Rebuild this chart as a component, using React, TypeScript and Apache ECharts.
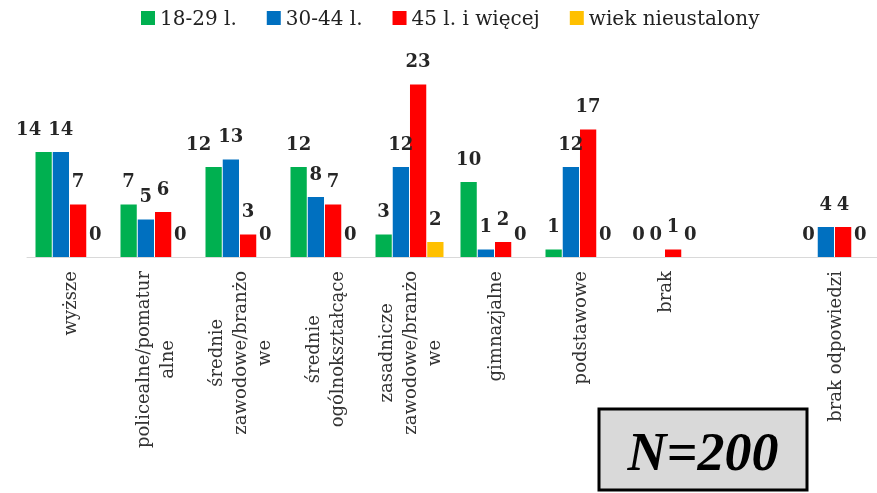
import React, { useEffect, useRef } from "react";
import * as echarts from "echarts";

const categories = [
  "wyższe",
  "policealne/pomatur\nalne",
  "średnie\nzawodowe/branżo\nwe",
  "średnie\nogólnokształcące",
  "zasadnicze\nzawodowe/branżo\nwe",
  "gimnazjalne",
  "podstawowe",
  "brak",
  "",
  "brak odpowiedzi",
];
const seriesNames = ["18-29 l.", "30-44 l.", "45 l. i więcej", "wiek nieustalony"];
const age18_29 = [14, 7, 12, 12, 3, 10, 1, 0, null, 0];
const age30_44 = [14, 5, 13, 8, 12, 1, 12, 0, null, 4];
const age45plus = [7, 6, 3, 7, 23, 2, 17, 1, null, 4];
const ageUnknown = [0, 0, 0, 0, 2, 0, 0, 0, null, 0];
const colors = ["#00B050", "#0070C0", "#FF0000", "#FFC000"];
const sampleLabel = "N=200";

export default function App() {
  const ref = useRef<HTMLDivElement>(null);
  useEffect(() => {
    if (!ref.current) return;
    const chart = echarts.init(ref.current, null, { renderer: "svg" });
    const allData = [age18_29, age30_44, age45plus, ageUnknown];
    const serif = "'DejaVu Serif', serif";
    chart.setOption({
      animation: false,
      color: colors,
      legend: {
        top: 3,
        left: 136,
        itemWidth: 14,
        itemHeight: 14,
        itemGap: 30,
        icon: "rect",
        textStyle: { fontFamily: serif, fontSize: 20, color: "#222" },
        data: seriesNames,
      },
      grid: { left: 27, right: 0, top: 69.5, bottom: 236, containLabel: false },
      xAxis: {
        type: "category",
        data: categories,
        axisTick: { show: false },
        axisLine: { lineStyle: { color: "#d9d9d9", width: 1 } },
        axisLabel: {
          rotate: 90,
          interval: 0,
          margin: 14,
          fontFamily: serif,
          fontSize: 18,
          lineHeight: 24,
          color: "#333",
          formatter: (v: string) =>
            v
              .split("\n")
              .map((l) => `{c|${l}}`)
              .join("\n"),
          rich: {
            c: { align: "center", fontFamily: serif, fontSize: 18, lineHeight: 24, color: "#333" },
          },
        },
      },
      yAxis: {
        type: "value",
        min: 0,
        max: 25,
        show: false,
        splitLine: { show: false },
      },
      series: allData.map((d, i) => ({
        name: seriesNames[i],
        type: "bar",
        data: d,
        barGap: "6%",
        barCategoryGap: "20%",
        label: {
          show: true,
          position: "top",
          distance: 15,
          fontFamily: serif,
          fontWeight: "bold",
          fontSize: 18,
          color: "#262626",
        },
        labelLayout:
          i === 0
            ? (p: any) => {
                const a = age18_29[p.dataIndex];
                const b = age30_44[p.dataIndex];
                if (a != null && b != null && a >= 10 && b >= 10 && Math.abs(a - b) <= 1) {
                  return { dx: -15 };
                }
                return {};
              }
            : undefined,
      })),
      graphic: [
        {
          type: "rect",
          shape: { x: 599, y: 409, width: 208, height: 81 },
          style: { fill: "#d9d9d9", stroke: "#000", lineWidth: 3 },
        },
        {
          type: "text",
          x: 703,
          y: 452,
          style: {
            text: sampleLabel,
            fontFamily: "'Liberation Serif', serif",
            fontWeight: "bold",
            fontStyle: "italic",
            fontSize: 54,
            fill: "#000",
            align: "center",
            verticalAlign: "middle",
          },
        },
      ],
    });
    return () => chart.dispose();
  }, []);
  return (
    <div
      ref={ref}
      style={{ position: "fixed", left: 0, top: 0, width: 877, height: 493 }}
    />
  );
}
